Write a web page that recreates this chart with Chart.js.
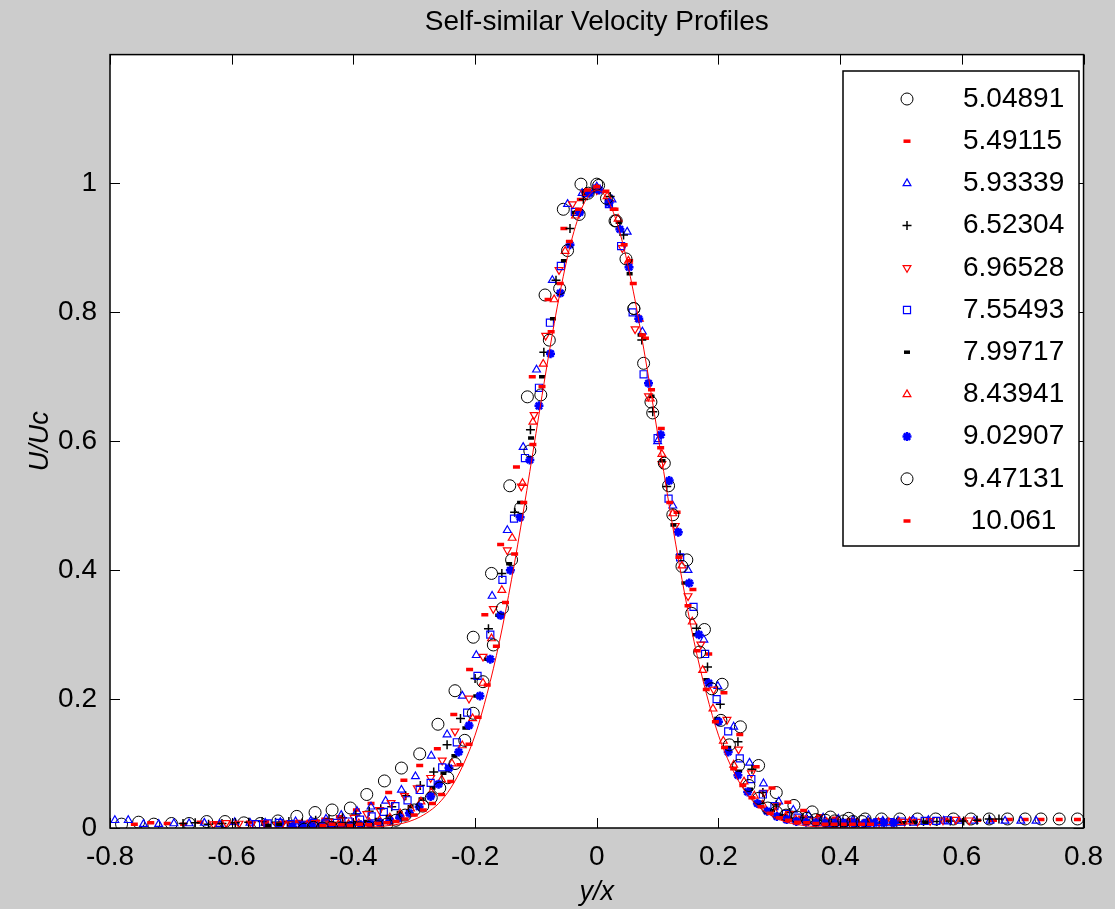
<!DOCTYPE html>
<html lang="en">
<head>
  <meta charset="UTF-8" />
  <title>Self-similar Velocity Profiles</title>
  <script src="https://cdn.jsdelivr.net/npm/chart.js"></script>
  <style>
    body {
      margin: 0;
      background-color: #cccccc;
    }
    canvas {
      display: block;
    }
  </style>
</head>
<body>

  <canvas id="profileChart" width="1115" height="909"></canvas>

  <script>
    // legend labels (x stations)
    const seriesLabels = ['5.04891', '5.49115', '5.93339', '6.52304', '6.96528', '7.55493', '7.99717', '8.43941', '9.02907', '9.47131', '10.061'];
    const xTicks = [-0.8, -0.6, -0.4, -0.2, 0, 0.2, 0.4, 0.6, 0.8];
    const yTicks = [0, 0.2, 0.4, 0.6, 0.8, 1];

    const s1x = [-0.781,-0.753,-0.728,-0.699,-0.670,-0.641,-0.611,-0.580,-0.553,-0.524,-0.493,-0.463,-0.435,-0.405,-0.378,-0.349,-0.321,-0.291,-0.261,-0.233,-0.203,-0.173,-0.143,-0.114,-0.085,-0.055,-0.026,0.003,0.032,0.061,0.089,0.118,0.148,0.177,0.206,0.236,0.266,0.295,0.324,0.354,0.384,0.414,0.441,0.468,0.498,0.527,0.557,0.586,0.615,0.645,0.675,0.704,0.730,0.760,0.790];
    const s1y = [0.006,0.009,0.006,0.007,0.007,0.010,0.010,0.008,0.007,0.011,0.018,0.024,0.028,0.031,0.052,0.073,0.093,0.115,0.161,0.213,0.296,0.395,0.531,0.669,0.827,0.960,0.999,0.997,0.942,0.806,0.661,0.531,0.416,0.308,0.223,0.157,0.097,0.055,0.035,0.025,0.017,0.015,0.014,0.014,0.014,0.014,0.014,0.014,0.014,0.014,0.014,0.014,0.014,0.014,0.014];

    const s2x = [-0.760,-0.733,-0.706,-0.679,-0.652,-0.625,-0.598,-0.571,-0.544,-0.517,-0.490,-0.470,-0.447,-0.423,-0.395,-0.371,-0.342,-0.317,-0.291,-0.262,-0.235,-0.209,-0.184,-0.158,-0.132,-0.106,-0.080,-0.054,-0.027,0.000,0.027,0.054,0.080,0.106,0.132,0.158,0.184,0.209,0.235,0.262,0.288,0.314,0.340,0.366,0.392,0.418,0.444,0.470,0.496,0.522,0.548,0.574,0.600,0.626,0.652,0.678,0.704,0.730,0.760,0.790];
    const s2y = [0.006,0.008,0.007,0.006,0.009,0.008,0.007,0.009,0.008,0.009,0.010,0.010,0.0135,0.0175,0.028,0.038,0.055,0.074,0.097,0.123,0.176,0.246,0.331,0.440,0.560,0.700,0.820,0.930,0.975,0.990,0.960,0.880,0.760,0.620,0.490,0.370,0.270,0.210,0.145,0.095,0.062,0.040,0.027,0.019,0.015,0.013,0.011,0.011,0.011,0.011,0.011,0.012,0.012,0.012,0.012,0.013,0.013,0.013,0.013,0.013];

    const s3x = [-0.792,-0.770,-0.745,-0.720,-0.695,-0.670,-0.645,-0.620,-0.595,-0.570,-0.545,-0.520,-0.495,-0.470,-0.445,-0.420,-0.394,-0.371,-0.347,-0.321,-0.298,-0.272,-0.246,-0.221,-0.198,-0.172,-0.147,-0.121,-0.099,-0.073,-0.048,-0.024,0.000,0.025,0.050,0.075,0.100,0.125,0.150,0.176,0.199,0.225,0.251,0.274,0.299,0.323,0.348,0.372,0.397,0.421,0.446,0.470,0.495,0.520,0.545,0.570,0.595,0.620,0.646,0.671,0.697,0.722];
    const s3y = [0.012,0.012,0.006,0.006,0.007,0.007,0.008,0.006,0.009,0.008,0.008,0.009,0.010,0.011,0.014,0.020,0.026,0.033,0.042,0.059,0.080,0.112,0.145,0.205,0.268,0.360,0.462,0.591,0.711,0.850,0.968,0.985,0.995,0.975,0.925,0.770,0.600,0.500,0.400,0.292,0.220,0.157,0.101,0.069,0.041,0.028,0.020,0.016,0.014,0.012,0.012,0.011,0.011,0.012,0.012,0.011,0.011,0.011,0.011,0.011,0.011,0.011];

    const s4x = [-0.680,-0.660,-0.638,-0.616,-0.594,-0.572,-0.550,-0.528,-0.506,-0.484,-0.462,-0.440,-0.418,-0.396,-0.374,-0.355,-0.337,-0.314,-0.290,-0.268,-0.246,-0.224,-0.200,-0.178,-0.156,-0.135,-0.109,-0.087,-0.067,-0.044,-0.022,0.000,0.022,0.044,0.074,0.092,0.115,0.137,0.164,0.182,0.203,0.232,0.255,0.273,0.295,0.317,0.339,0.361,0.383,0.405,0.427,0.449,0.471,0.493,0.515,0.537,0.559,0.581,0.603,0.625,0.645,0.661];
    const s4y = [0.007,0.008,0.006,0.007,0.008,0.009,0.010,0.009,0.010,0.008,0.012,0.014,0.016,0.020,0.026,0.030,0.033,0.050,0.066,0.087,0.129,0.170,0.232,0.309,0.395,0.490,0.618,0.738,0.850,0.930,0.975,0.990,0.980,0.920,0.757,0.646,0.530,0.424,0.310,0.250,0.192,0.134,0.091,0.055,0.036,0.024,0.016,0.012,0.010,0.009,0.009,0.009,0.009,0.009,0.010,0.010,0.010,0.011,0.011,0.012,0.014,0.014];

    const s5x = [-0.630,-0.609,-0.588,-0.567,-0.546,-0.525,-0.504,-0.483,-0.462,-0.441,-0.420,-0.399,-0.378,-0.357,-0.338,-0.316,-0.295,-0.273,-0.254,-0.233,-0.210,-0.187,-0.170,-0.147,-0.124,-0.103,-0.084,-0.062,-0.040,-0.020,0.000,0.021,0.042,0.063,0.085,0.107,0.129,0.150,0.171,0.192,0.214,0.233,0.254,0.275,0.296,0.317,0.338,0.359,0.380,0.401,0.422,0.443,0.464,0.485,0.506,0.527,0.548,0.569,0.590,0.612];
    const s5y = [0.006,0.008,0.007,0.006,0.008,0.005,0.006,0.007,0.008,0.010,0.012,0.016,0.022,0.028,0.039,0.050,0.062,0.078,0.105,0.150,0.201,0.266,0.340,0.431,0.530,0.641,0.764,0.866,0.968,0.985,0.990,0.970,0.900,0.774,0.670,0.565,0.469,0.360,0.285,0.215,0.168,0.122,0.085,0.055,0.035,0.022,0.015,0.012,0.010,0.009,0.009,0.009,0.009,0.009,0.010,0.010,0.011,0.012,0.013,0.012];

    const s6x = [-0.560,-0.541,-0.522,-0.503,-0.484,-0.465,-0.446,-0.427,-0.408,-0.389,-0.370,-0.350,-0.331,-0.311,-0.291,-0.273,-0.254,-0.230,-0.213,-0.196,-0.175,-0.155,-0.136,-0.118,-0.095,-0.077,-0.059,-0.036,-0.018,0.000,0.020,0.040,0.059,0.077,0.100,0.118,0.137,0.159,0.178,0.197,0.216,0.235,0.254,0.273,0.292,0.311,0.330,0.349,0.368,0.387,0.406,0.425,0.444,0.463,0.482,0.501,0.520,0.539,0.558,0.577];
    const s6y = [0.006,0.007,0.008,0.006,0.005,0.008,0.007,0.008,0.010,0.013,0.018,0.025,0.034,0.043,0.059,0.070,0.094,0.133,0.179,0.236,0.300,0.385,0.480,0.574,0.683,0.784,0.872,0.956,0.985,0.992,0.968,0.903,0.800,0.704,0.605,0.511,0.420,0.343,0.270,0.200,0.150,0.108,0.076,0.052,0.034,0.022,0.016,0.012,0.010,0.008,0.008,0.008,0.008,0.009,0.009,0.010,0.010,0.011,0.011,0.012];

    const s7x = [-0.540,-0.522,-0.504,-0.486,-0.468,-0.450,-0.432,-0.414,-0.396,-0.378,-0.360,-0.342,-0.324,-0.306,-0.288,-0.270,-0.252,-0.234,-0.216,-0.198,-0.180,-0.162,-0.144,-0.126,-0.108,-0.090,-0.072,-0.054,-0.036,-0.018,0.000,0.018,0.036,0.054,0.072,0.090,0.108,0.126,0.144,0.162,0.180,0.198,0.216,0.234,0.252,0.270,0.288,0.306,0.324,0.342,0.360,0.378,0.396,0.414,0.432,0.450,0.468,0.486,0.504,0.522,0.540];
    const s7y = [0.004,0.006,0.005,0.006,0.005,0.006,0.007,0.007,0.008,0.010,0.013,0.018,0.024,0.033,0.045,0.062,0.085,0.112,0.155,0.205,0.262,0.330,0.410,0.505,0.605,0.700,0.790,0.880,0.955,0.985,0.990,0.975,0.940,0.860,0.765,0.670,0.570,0.470,0.380,0.300,0.230,0.170,0.125,0.088,0.060,0.040,0.027,0.019,0.014,0.011,0.009,0.008,0.007,0.007,0.007,0.007,0.008,0.008,0.008,0.009,0.009];

    const s8x = [-0.510,-0.493,-0.476,-0.459,-0.442,-0.425,-0.408,-0.391,-0.374,-0.357,-0.340,-0.323,-0.306,-0.289,-0.272,-0.255,-0.238,-0.221,-0.204,-0.187,-0.173,-0.156,-0.139,-0.122,-0.105,-0.088,-0.070,-0.052,-0.035,-0.017,0.000,0.017,0.035,0.052,0.070,0.088,0.107,0.125,0.140,0.157,0.174,0.191,0.208,0.225,0.242,0.259,0.273,0.293,0.310,0.327,0.344,0.361,0.378,0.395,0.412,0.429,0.446,0.463,0.480,0.497,0.514];
    const s8y = [0.004,0.005,0.005,0.006,0.004,0.005,0.006,0.007,0.009,0.012,0.016,0.022,0.030,0.041,0.055,0.075,0.100,0.128,0.170,0.225,0.294,0.369,0.450,0.535,0.630,0.720,0.820,0.895,0.950,0.985,0.992,0.980,0.945,0.880,0.790,0.666,0.580,0.488,0.407,0.320,0.245,0.185,0.135,0.098,0.072,0.050,0.036,0.024,0.017,0.013,0.011,0.010,0.009,0.008,0.008,0.008,0.008,0.009,0.009,0.009,0.010];

    const s9x = [-0.500,-0.484,-0.468,-0.452,-0.436,-0.420,-0.404,-0.388,-0.372,-0.356,-0.340,-0.324,-0.308,-0.292,-0.273,-0.260,-0.243,-0.227,-0.210,-0.192,-0.175,-0.158,-0.142,-0.126,-0.110,-0.095,-0.076,-0.060,-0.044,-0.028,-0.012,0.004,0.020,0.038,0.053,0.069,0.085,0.105,0.119,0.134,0.152,0.168,0.184,0.200,0.216,0.232,0.248,0.264,0.280,0.296,0.312,0.328,0.344,0.360,0.376,0.392,0.408,0.424,0.440,0.456,0.472,0.488];
    const s9y = [0.002,0.003,0.002,0.003,0.002,0.003,0.004,0.005,0.006,0.008,0.011,0.016,0.023,0.033,0.049,0.068,0.093,0.118,0.159,0.205,0.262,0.330,0.400,0.482,0.571,0.655,0.736,0.830,0.905,0.955,0.985,0.990,0.970,0.929,0.870,0.790,0.690,0.610,0.539,0.459,0.380,0.300,0.225,0.165,0.118,0.082,0.056,0.038,0.026,0.018,0.013,0.010,0.009,0.008,0.007,0.007,0.007,0.007,0.007,0.008,0.008,0.008];

    const s10x = [-0.481,-0.466,-0.451,-0.436,-0.421,-0.406,-0.391,-0.376,-0.360,-0.345,-0.330,-0.315,-0.300,-0.286,-0.272,-0.258,-0.245,-0.233,-0.217,-0.203,-0.187,-0.170,-0.155,-0.140,-0.125,-0.110,-0.092,-0.078,-0.061,-0.048,-0.029,-0.014,0.000,0.016,0.030,0.048,0.061,0.077,0.092,0.111,0.125,0.140,0.156,0.169,0.189,0.204,0.218,0.233,0.250,0.266,0.281,0.295,0.311,0.329,0.345,0.360,0.376,0.391,0.406,0.421,0.436];
    const s10y = [-0.002,0.001,0.000,0.001,0.000,0.000,0.000,0.001,0.002,0.006,0.012,0.020,0.028,0.034,0.047,0.062,0.078,0.100,0.136,0.178,0.227,0.284,0.341,0.416,0.497,0.585,0.672,0.757,0.837,0.896,0.952,0.985,0.999,0.977,0.942,0.883,0.806,0.721,0.644,0.566,0.486,0.406,0.333,0.273,0.216,0.167,0.129,0.097,0.066,0.046,0.031,0.025,0.020,0.017,0.015,0.013,0.012,0.011,0.011,0.010,0.010];

    const s11x = [-0.450,-0.435,-0.420,-0.405,-0.390,-0.375,-0.360,-0.345,-0.330,-0.315,-0.300,-0.285,-0.270,-0.255,-0.240,-0.225,-0.210,-0.195,-0.180,-0.165,-0.150,-0.135,-0.120,-0.105,-0.090,-0.075,-0.060,-0.045,-0.030,-0.015,0.000,0.015,0.030,0.045,0.060,0.075,0.090,0.105,0.120,0.135,0.150,0.165,0.180,0.195,0.210,0.225,0.240,0.255,0.270,0.285,0.300,0.315,0.330,0.345,0.360,0.375,0.390,0.405,0.420,0.435,0.450];
    const s11y = [0.004,0.006,0.005,0.004,0.006,0.005,0.007,0.008,0.010,0.014,0.020,0.028,0.038,0.052,0.072,0.098,0.130,0.172,0.222,0.282,0.350,0.425,0.505,0.595,0.685,0.770,0.845,0.910,0.960,0.990,0.995,0.988,0.960,0.905,0.845,0.765,0.680,0.590,0.505,0.420,0.345,0.275,0.215,0.165,0.125,0.092,0.066,0.047,0.033,0.023,0.016,0.012,0.009,0.008,0.007,0.006,0.006,0.006,0.006,0.006,0.006];

    // fitted profile (red line)
    const fitX = [-0.60,-0.50,-0.40,-0.36,-0.34,-0.32,-0.30,-0.28,-0.26,-0.24,-0.22,-0.20,-0.18,-0.16,-0.14,-0.12,-0.10,-0.08,-0.06,-0.04,-0.02,0.00,0.02,0.04,0.06,0.08,0.10,0.12,0.14,0.16,0.18,0.20,0.22,0.24,0.26,0.28,0.30,0.32,0.34,0.36,0.40,0.50,0.60];
    const fitY = [0.000,0.000,0.0005,0.002,0.004,0.007,0.013,0.023,0.038,0.062,0.097,0.144,0.209,0.289,0.386,0.495,0.612,0.728,0.833,0.917,0.971,0.990,0.971,0.917,0.833,0.728,0.612,0.495,0.386,0.289,0.209,0.144,0.097,0.062,0.038,0.023,0.013,0.007,0.004,0.002,0.0005,0.000,0.000];

    const seriesX = [s1x, s2x, s3x, s4x, s5x, s6x, s7x, s8x, s9x, s10x, s11x];
    const seriesY = [s1y, s2y, s3y, s4y, s5y, s6y, s7y, s8y, s9y, s10y, s11y];

    const markers = [
      { pointStyle: 'circle',   color: '#000000', radius: 6,   borderWidth: 1 },
      { pointStyle: 'line',     color: '#ff0000', radius: 3.5, borderWidth: 3.5 },
      { pointStyle: 'triangle', color: '#0000ff', radius: 4.5, borderWidth: 1.2 },
      { pointStyle: 'cross',    color: '#000000', radius: 4.5, borderWidth: 1.5 },
      { pointStyle: 'triangle', color: '#ff0000', radius: 4.5, borderWidth: 1.2, rotation: 180 },
      { pointStyle: 'rect',     color: '#0000ff', radius: 5,   borderWidth: 1.2 },
      { pointStyle: 'line',     color: '#000000', radius: 3,   borderWidth: 3.5 },
      { pointStyle: 'triangle', color: '#ff0000', radius: 4.5, borderWidth: 1.2 },
      { pointStyle: 'star',     color: '#0000ff', radius: 4.5, borderWidth: 2.5 },
      { pointStyle: 'circle',   color: '#000000', radius: 6,   borderWidth: 1 },
      { pointStyle: 'line',     color: '#ff0000', radius: 3.5, borderWidth: 3.5 }
    ];

    const FONT = "'Liberation Sans', Arial, sans-serif";
    Chart.defaults.font.family = FONT;
    Chart.defaults.color = '#000000';

    const datasets = seriesLabels.map((label, i) => ({
      label: label,
      data: seriesX[i].map((x, j) => ({ x: x, y: seriesY[i][j] })),
      pointStyle: markers[i].pointStyle,
      pointRadius: markers[i].radius,
      pointRotation: markers[i].rotation || 0,
      pointBorderWidth: markers[i].borderWidth,
      pointBorderColor: markers[i].color,
      pointBackgroundColor: 'rgba(0,0,0,0)',
      borderColor: markers[i].color,
      showLine: false,
      order: 20 - i
    }));

    datasets.push({
      label: 'fit',
      data: fitX.map((x, j) => ({ x: x, y: fitY[j] })),
      showLine: true,
      borderColor: '#ff0000',
      borderWidth: 1,
      pointRadius: 0,
      cubicInterpolationMode: 'monotone',
      order: 0
    });

    // gray figure, white axes, box with inward ticks, MATLAB style legend
    const matlabFrame = {
      id: 'matlabFrame',
      beforeDraw(chart) {
        const { ctx, chartArea: a } = chart;
        ctx.save();
        ctx.fillStyle = '#cccccc';
        ctx.fillRect(0, 0, chart.width, chart.height);
        ctx.fillStyle = '#ffffff';
        ctx.fillRect(a.left, a.top, a.right - a.left, a.bottom - a.top);
        ctx.restore();
      },
      afterDraw(chart) {
        const { ctx, chartArea: a, scales } = chart;
        const tl = 10;
        ctx.save();
        ctx.strokeStyle = '#000000';
        ctx.lineWidth = 1.5;
        ctx.strokeRect(a.left, a.top, a.right - a.left, a.bottom - a.top);
        ctx.lineWidth = 1;
        ctx.beginPath();
        xTicks.forEach(v => {
          const px = Math.round(scales.x.getPixelForValue(v)) + 0.5;
          ctx.moveTo(px, a.bottom); ctx.lineTo(px, a.bottom - tl);
          ctx.moveTo(px, a.top); ctx.lineTo(px, a.top + tl);
        });
        yTicks.forEach(v => {
          const py = Math.round(scales.y.getPixelForValue(v)) + 0.5;
          ctx.moveTo(a.left, py); ctx.lineTo(a.left + tl, py);
          ctx.moveTo(a.right, py); ctx.lineTo(a.right - tl, py);
        });
        ctx.stroke();

        // legend box
        const lg = { left: 843, top: 71, width: 236, height: 475, row: 42.2, first: 99 };
        ctx.fillStyle = '#ffffff';
        ctx.fillRect(lg.left, lg.top, lg.width, lg.height);
        ctx.lineWidth = 1.5;
        ctx.strokeRect(lg.left, lg.top, lg.width, lg.height);
        ctx.font = '28px ' + FONT;
        ctx.textBaseline = 'middle';
        ctx.textAlign = 'left';
        seriesLabels.forEach((label, i) => {
          const y = lg.first + i * lg.row;
          const m = markers[i];
          ctx.strokeStyle = m.color;
          ctx.fillStyle = 'rgba(0,0,0,0)';
          ctx.lineWidth = m.borderWidth;
          Chart.helpers.drawPoint(ctx, {
            pointStyle: m.pointStyle,
            radius: m.radius,
            rotation: m.rotation || 0,
            borderWidth: m.borderWidth
          }, lg.left + 64, y);
          ctx.fillStyle = '#000000';
          ctx.fillText(label.padStart(7, ' '), lg.left + 120, y);
        });
        ctx.restore();
      }
    };

    const ctx = document.getElementById('profileChart').getContext('2d');

    const profileChart = new Chart(ctx, {
      type: 'scatter',
      data: { datasets: datasets },
      options: {
        responsive: false,
        animation: false,
        events: [],
        layout: { padding: { top: 0, right: 22, bottom: 0, left: 0 } },
        plugins: {
          legend: { display: false },
          tooltip: { enabled: false },
          title: {
            display: true,
            fullSize: false,
            text: 'Self-similar Velocity Profiles',
            color: '#000000',
            font: { size: 28, weight: 'normal' },
            padding: { top: 5, bottom: 16 }
          }
        },
        scales: {
          x: {
            type: 'linear',
            min: -0.8,
            max: 0.8,
            afterBuildTicks: scale => { scale.ticks = xTicks.map(v => ({ value: v })); },
            afterFit: scale => { scale.height = 81; },
            grid: { display: false, drawTicks: false },
            border: { display: false },
            ticks: {
              padding: 12,
              color: '#000000',
              font: { size: 28 },
              maxRotation: 0,
              callback: v => String(Math.round(v * 10) / 10)
            },
            title: {
              display: true,
              text: 'y/x',
              color: '#000000',
              font: { size: 27, style: 'italic' },
              padding: { top: 0, bottom: 0 }
            }
          },
          y: {
            type: 'linear',
            min: 0,
            max: 1.2,
            afterBuildTicks: scale => { scale.ticks = yTicks.map(v => ({ value: v })); },
            afterFit: scale => { scale.width = 110; },
            grid: { display: false, drawTicks: false },
            border: { display: false },
            ticks: {
              padding: 13,
              color: '#000000',
              font: { size: 28 },
              callback: v => String(Math.round(v * 10) / 10)
            },
            title: {
              display: true,
              text: 'U/Uc',
              color: '#000000',
              font: { size: 27, style: 'italic' },
              padding: { top: 24, bottom: 0 }
            }
          }
        }
      },
      plugins: [matlabFrame]
    });
  </script>
</body>
</html>
